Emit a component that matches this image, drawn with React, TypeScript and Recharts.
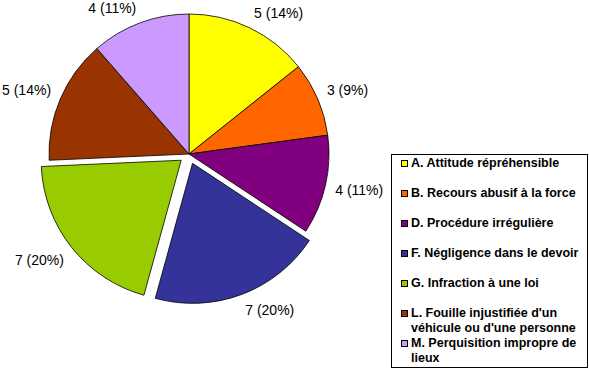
import React from 'react';
import { PieChart, Pie, Cell, Legend } from 'recharts';

const categories = [
  'A. Attitude répréhensible',
  'B. Recours abusif à la force',
  'D. Procédure irrégulière',
  'F. Négligence dans le devoir',
  'G. Infraction à une loi',
  "L. Fouille injustifiée d'un\nvéhicule ou d'une personne",
  'M. Perquisition impropre de\nlieux',
];
const counts = [5, 3, 4, 7, 7, 5, 4];
const colors = ['#FFFF00', '#FF6600', '#800080', '#333399', '#99CC00', '#993300', '#CC99FF'];
const exploded = [false, false, false, true, true, false, false];

const total = counts.reduce((a, b) => a + b, 0);
const data = categories.map((name, i) => ({ name, value: counts[i] }));

const CX = 189;
const CY = 154;
const R = 140;
const EXPLODE = 10;

// offset for each exploded slice, computed from the data's angles (clockwise from top)
const offsets = counts.map((v, i) => {
  const before = counts.slice(0, i).reduce((a, b) => a + b, 0);
  const theta = ((before + v / 2) / total) * 2 * Math.PI;
  return exploded[i] ? { dx: EXPLODE * Math.sin(theta), dy: -EXPLODE * Math.cos(theta) } : { dx: 0, dy: 0 };
});

const RAD = Math.PI / 180;
const FONT = '"Liberation Sans", Arial, sans-serif';

const makeLabel = (visible: (i: number) => boolean) => (props: any) => {
  const { cx, cy, midAngle, outerRadius, value, index } = props;
  if (!visible(index)) return null;
  const dirX = Math.cos(midAngle * RAD);
  const dirY = -Math.sin(midAngle * RAD);
  const rr = outerRadius + 10;
  const px = cx + rr * dirX;
  const py = cy + rr * dirY;
  const yOff = 6 * Math.max(-1, Math.min(1, dirY * 2));
  const pct = Math.round((value / total) * 100);
  return (
    <text
      x={px}
      y={py + yOff}
      textAnchor={dirX >= 0 ? 'start' : 'end'}
      dominantBaseline="central"
      fontFamily={FONT}
      fontSize={14}
      fill="#000"
    >
      {`${value} (${pct}%)`}
    </text>
  );
};

const groups = [
  { key: 'base', show: (i: number) => !exploded[i], dx: 0, dy: 0 },
  ...exploded
    .map((e, i) => (e ? { key: 'ex' + i, show: (j: number) => j === i, dx: offsets[i].dx, dy: offsets[i].dy } : null))
    .filter(Boolean) as any[],
];

const LegendBox = () => (
  <div
    style={{
      width: 195,
      height: 211,
      border: '1px solid #000',
      background: '#fff',
      boxSizing: 'content-box',
      paddingTop: 1,
      fontFamily: FONT,
      fontWeight: 'bold',
      fontSize: 12.5,
      lineHeight: '15px',
      color: '#000',
    }}
  >
    {categories.map((c, i) => (
      <div key={c} style={{ height: 30, position: 'relative', whiteSpace: 'pre-line', paddingLeft: 19 }}>
        <span
          style={{
            position: 'absolute',
            left: 9,
            top: 4,
            width: 5,
            height: 5,
            border: '1px solid #000',
            background: colors[i],
          }}
        />
        {c}
      </div>
    ))}
  </div>
);

export default function App() {
  return (
    <div style={{ position: 'absolute', left: 0, top: 0, width: 589, height: 370, background: '#fff' }}>
      <PieChart width={589} height={370} margin={{ top: 0, right: 0, bottom: 0, left: 0 }}>
        {groups.map((g) => (
          <Pie
            key={g.key}
            data={data}
            dataKey="value"
            nameKey="name"
            cx={CX + g.dx}
            cy={CY + g.dy}
            outerRadius={R}
            startAngle={90}
            endAngle={-270}
            isAnimationActive={false}
            labelLine={false}
            label={makeLabel(g.show)}
            legendType="none"
          >
            {data.map((d, i) => (
              <Cell
                key={d.name}
                fill={g.show(i) ? colors[i] : 'none'}
                stroke={g.show(i) ? '#000' : 'none'}
                strokeWidth={0.8}
              />
            ))}
          </Pie>
        ))}
        <Legend
          layout="vertical"
          align="right"
          verticalAlign="top"
          content={() => <LegendBox />}
          wrapperStyle={{ left: 391, top: 154, width: 197, height: 213, right: 'auto', bottom: 'auto' }}
        />
      </PieChart>
    </div>
  );
}
